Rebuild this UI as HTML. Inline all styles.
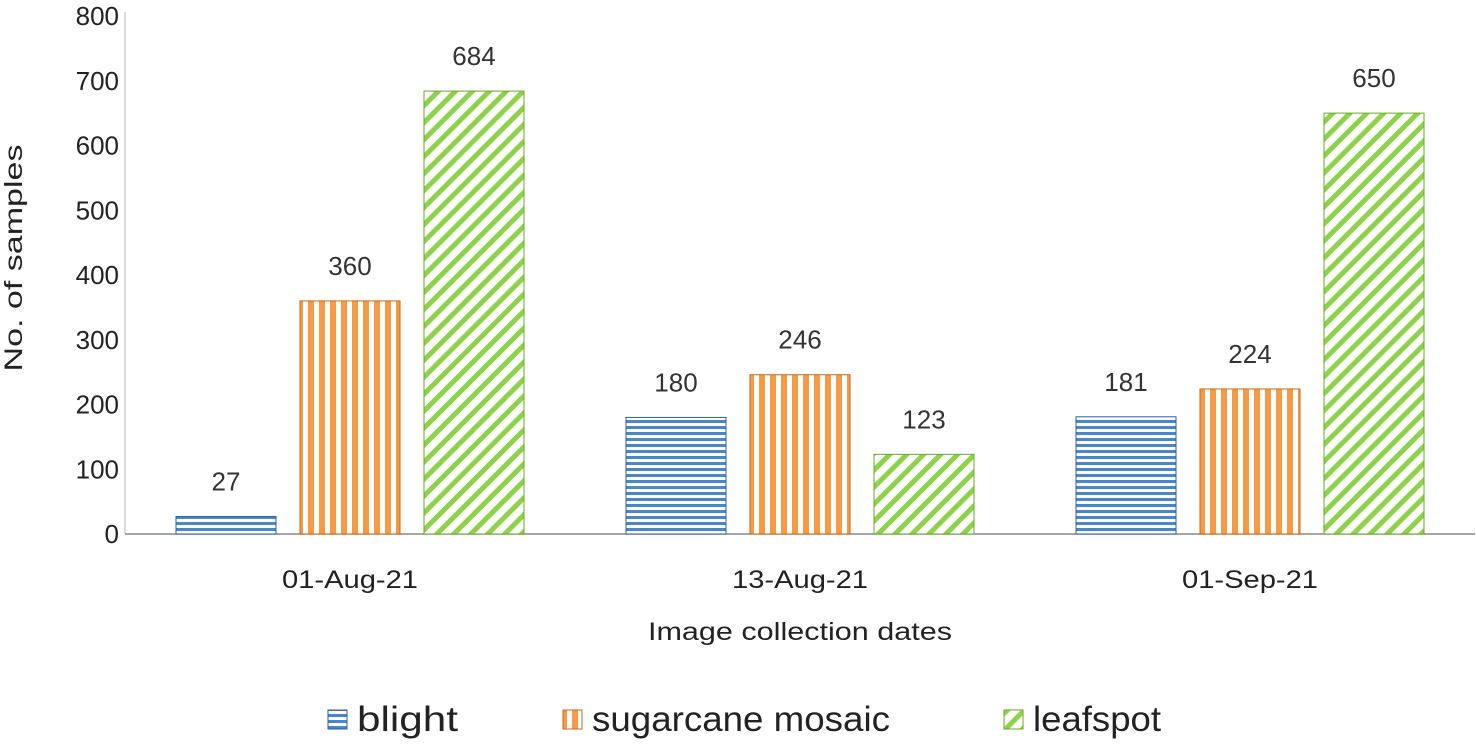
<!DOCTYPE html>
<html><head><meta charset="utf-8"><style>
body{margin:0;background:#fff;}
svg{font-family:"Liberation Sans",sans-serif;}
</style></head><body>
<svg id="chart" width="1476" height="748" viewBox="0 0 1476 748" xmlns="http://www.w3.org/2000/svg">
<defs>
<pattern id="pBlue" width="10" height="6" patternUnits="userSpaceOnUse"><rect width="10" height="6" fill="#fff"/><rect width="10" height="3" fill="#4a86cc"/></pattern>
<pattern id="pOrange" width="11" height="10" patternUnits="userSpaceOnUse"><rect width="11" height="10" fill="#fff"/><rect width="6" height="10" fill="#f79a45"/></pattern>
<pattern id="pGreen" width="12" height="12" patternUnits="userSpaceOnUse" patternTransform="rotate(-45)"><rect width="12" height="12" fill="#fff"/><rect width="12" height="5" fill="#8ed14a"/></pattern>
</defs>
<g id="plot"></g>
</svg>
<script>
const categories=["01-Aug-21","13-Aug-21","01-Sep-21"];
const seriesNames=["blight","sugarcane mosaic","leafspot"];
const blight=[27,180,181];
const mosaic=[360,246,224];
const leafspot=[684,123,650];
const yTicks=[0,100,200,300,400,500,600,700,800];
const NS="http://www.w3.org/2000/svg";
const g=document.getElementById('plot');
const x0=125,x1=1475,yBase=534,yTop=16,yMax=800;
const y=v=>yBase-(v/yMax)*(yBase-yTop);
const catW=(x1-x0)/categories.length;
const xc=i=>x0+catW*(i+0.5);
function mk(t,a,txt){const e=document.createElementNS(NS,t);for(const k in a)e.setAttribute(k,a[k]);if(txt!=null)e.textContent=txt;g.appendChild(e);return e;}
let e;
e=mk('line',{x1:x0,y1:yTop-4,x2:x0,y2:yBase,stroke:'#bbb','stroke-width':1});

e=mk('line',{x1:x0,y1:yBase,x2:x1,y2:yBase,stroke:'#888','stroke-width':1.5});

yTicks.forEach(t=>{e=mk('text',{x:x0-6,y:y(t)+9,'text-anchor':'end','font-size':26,fill:'#222'},t);
});
categories.forEach((c,i)=>{e=mk('text',{x:xc(i),y:588,'text-anchor':'middle','font-size':25,fill:'#222',textLength:136,lengthAdjust:'spacingAndGlyphs'},c);
});
const series=[blight,mosaic,leafspot];
const fills=['url(#pBlue)','url(#pOrange)','url(#pGreen)'];
const strokes=['#2e5f9e','#c86a1c','#6aa82e'];
const bw=100,gap=124;
series.forEach((s,si)=>{s.forEach((v,i)=>{
 const cx=xc(i)+(si-1)*gap;
 e=mk('rect',{x:cx-bw/2,y:y(v),width:bw,height:yBase-y(v),fill:fills[si],stroke:strokes[si],'stroke-width':1});
 
 e=mk('text',{x:cx,y:y(v)-26,'text-anchor':'middle','font-size':26,fill:'#333'},v);
 
});});
e=mk('text',{x:800,y:640,'text-anchor':'middle','font-size':25,fill:'#222',textLength:304,lengthAdjust:'spacingAndGlyphs'},'Image collection dates');

e=mk('text',{x:0,y:0,'text-anchor':'middle','font-size':25,fill:'#222',textLength:227,lengthAdjust:'spacingAndGlyphs',transform:'translate(22,258) rotate(-90)'},'No. of samples');

const legX=[357,592,1033];
const legW=[101,298,128];
seriesNames.forEach((n,i)=>{
 e=mk('rect',{x:legX[i]-29,y:710,width:19,height:19,fill:fills[i],stroke:strokes[i]});
 
 e=mk('text',{x:legX[i],y:731,'font-size':35,fill:'#222',textLength:legW[i],lengthAdjust:'spacingAndGlyphs'},n);
 
});
</script>
</body></html>
